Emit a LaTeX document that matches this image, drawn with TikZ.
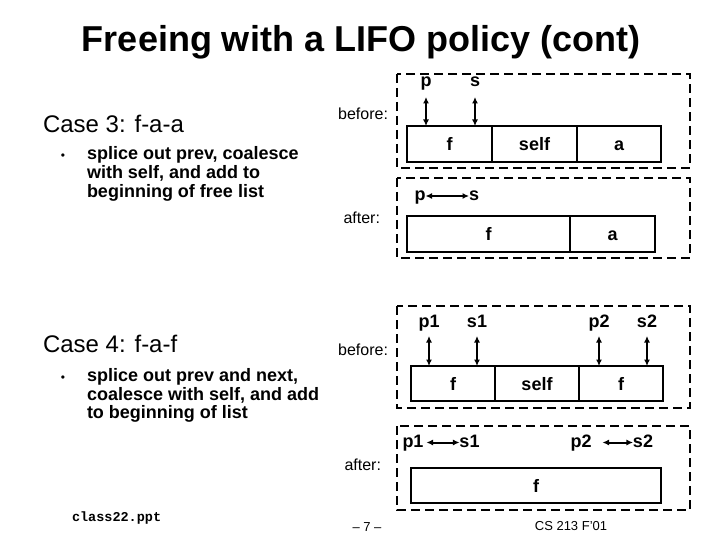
\documentclass[tikz,border=0pt]{standalone}
\usepackage{fontspec}
\setmainfont{Liberation Sans}
\setmonofont{Liberation Mono}
\usetikzlibrary{positioning,arrows.meta}

\newcommand{\fsz}[2]{\fontsize{#1}{#2}\selectfont}

\begin{document}
\begin{tikzpicture}[x=1pt,y=-1pt,
  every node/.style={inner sep=0pt,outer sep=0pt},
  frame/.style={line width=2.8pt,dash pattern=on 9pt off 5pt},
  cell/.style={draw,line width=2.6pt,minimum height=36pt,text height=13pt,text depth=0pt,font=\bfseries\fsz{18}{20}},
  lbl/.style={anchor=base,font=\bfseries\fsz{18}{20}},
  tag/.style={anchor=base east,font=\fsz{16}{18}},
  head/.style={anchor=base west,font=\fsz{24}{28}},
  item/.style={anchor=base west,font=\bfseries\fsz{18}{18.5}},
  ptr/.style={line width=2pt,{Latex[length=6.5pt,width=6pt]}-{Latex[length=6.5pt,width=6pt]}}]
\useasboundingbox (0,0) rectangle (720,540);

% title
\node[anchor=base,font=\bfseries\fsz{36}{40}] (title) at (361,52) {Freeing with a LIFO policy (cont)};

% left column, case 3
\node[head] (c3) at (43,133) {Case 3: f-a-a};
\node[anchor=base,font=\fsz{12}{14}] (c3b) at (63,160) {•};
\node[item] (c3l1) at (87,160) {splice out prev, coalesce};
\node[item] (c3l2) at (87,178.5) {with self, and add to};
\node[item] (c3l3) at (87,197) {beginning of free list};

% left column, case 4
\node[head] (c4) at (43,352) {Case 4: f-a-f};
\node[anchor=base,font=\fsz{12}{14}] (c4b) at (63,381.5) {•};
\node[item] (c4l1) at (87,381.5) {splice out prev and next,};
\node[item] (c4l2) at (87,400) {coalesce with self, and add};
\node[item] (c4l3) at (87,418.5) {to beginning of list};

% dashed frames
\draw[frame] (397,74) rectangle (690,168);
\draw[frame] (397,178) rectangle (690,258);
\draw[frame] (397,306) rectangle (690,408);
\draw[frame] (397,426) rectangle (690,510);

\node[tag] (tb3) at (388,120) {before:};
\node[tag] (ta3) at (380,223) {after:};
\node[tag] (tb4) at (388,355) {before:};
\node[tag] (ta4) at (381,470) {after:};

% case 3 before
\node[cell,anchor=north west,minimum width=85pt] (b3f) at (407,126) {f};
\node[cell,minimum width=85pt,right=0pt of b3f] (b3self) {self};
\node[cell,minimum width=84pt,right=0pt of b3self] (b3a) {a};
\node[lbl] (b3p) at (426,87) {p};
\node[lbl] (b3s) at (475,87) {s};
\draw[ptr] ([yshift=-10pt]b3p.base) -- (b3p.base |- b3f.north);
\draw[ptr] ([yshift=-10pt]b3s.base) -- (b3s.base |- b3f.north);

% case 3 after
\node[cell,anchor=north west,minimum width=163pt] (a3f) at (407,216) {f};
\node[cell,minimum width=85pt,right=0pt of a3f] (a3a) {a};
\node[lbl] (a3p) at (420,201) {p};
\node[lbl] (a3s) at (474,201) {s};
\draw[ptr] ([yshift=5pt]a3p.base east) -- ([yshift=5pt]a3s.base west);

% case 4 before
\node[cell,anchor=north west,minimum width=84pt,minimum height=35pt] (b4f1) at (411,366) {f};
\node[cell,minimum width=84pt,minimum height=35pt,right=0pt of b4f1] (b4self) {self};
\node[cell,minimum width=84pt,minimum height=35pt,right=0pt of b4self] (b4f2) {f};
\node[lbl] (b4p1) at (429,327.5) {p1};
\node[lbl] (b4s1) at (477,327.5) {s1};
\node[lbl] (b4p2) at (599,327.5) {p2};
\node[lbl] (b4s2) at (647,327.5) {s2};
\draw[ptr] ([yshift=-8.5pt]b4p1.base) -- (b4p1.base |- b4f1.north);
\draw[ptr] ([yshift=-8.5pt]b4s1.base) -- (b4s1.base |- b4f1.north);
\draw[ptr] ([yshift=-8.5pt]b4p2.base) -- (b4p2.base |- b4f2.north);
\draw[ptr] ([yshift=-8.5pt]b4s2.base) -- (b4s2.base |- b4f2.north);

% case 4 after
\node[cell,anchor=north west,minimum width=250pt,minimum height=35pt] (a4f) at (411,468) {f};
\node[lbl] (a4p1) at (413,447) {p1};
\node[lbl] (a4s1) at (469.5,447) {s1};
\node[lbl] (a4p2) at (581,447) {p2};
\node[lbl] (a4s2) at (643,447) {s2};
\draw[ptr] ([shift={(3pt,4.5pt)}]a4p1.base east) -- ([yshift=4.5pt]a4s1.base west);
\draw[ptr] ([shift={(11pt,4.5pt)}]a4p2.base east) -- ([yshift=4.5pt]a4s2.base west);

% footer
\node[anchor=base west,font=\ttfamily\bfseries\fsz{13.5}{15}] (file) at (72,521) {class22.ppt};
\node[anchor=base,font=\fsz{13}{15}] (page) at (367,531) {– 7 –};
\node[anchor=base,font=\fsz{13}{15}] (course) at (571,530) {CS 213 F'01};
\end{tikzpicture}
\end{document}
